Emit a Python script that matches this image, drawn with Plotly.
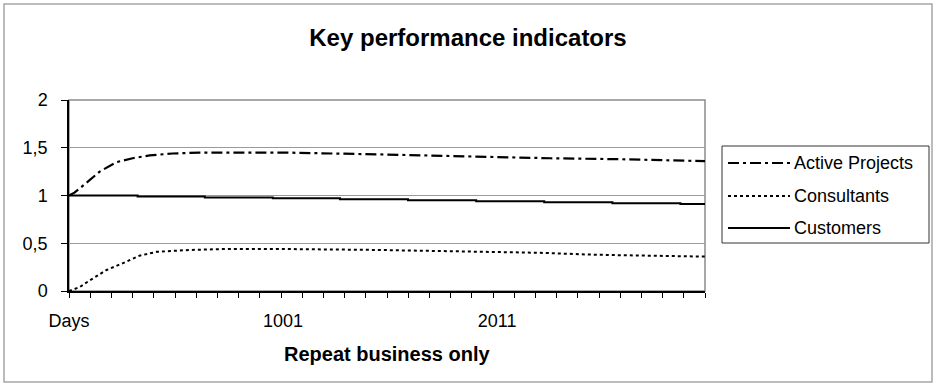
import plotly.graph_objects as go

# Simulation output (day -> indicator value)
active_days = [0, 26, 98, 146, 227, 303, 384, 494, 623, 1019, 1482, 2040, 2293, 2627, 3030]
active_vals = [1.00, 1.03, 1.16, 1.25, 1.35, 1.39, 1.42, 1.44, 1.45, 1.45, 1.43, 1.40, 1.39, 1.38, 1.36]

consult_days = [0, 50, 98, 179, 255, 336, 418, 575, 752, 1005, 1467, 1982, 2245, 2498, 2770, 3030]
consult_vals = [0.00, 0.04, 0.11, 0.22, 0.29, 0.37, 0.41, 0.43, 0.44, 0.44, 0.43, 0.41, 0.40, 0.38, 0.37, 0.36]

cust_days = [0, 327, 647, 971, 1291, 1615, 1940, 2264, 2589, 2913, 3030]
cust_vals = [1.00, 0.99, 0.98, 0.97, 0.96, 0.95, 0.94, 0.93, 0.92, 0.91, 0.91]

x_tick_pos = [0, 1020, 2040]
x_tick_text = ["Days", "1001", "2011"]

series_names = ["Active Projects", "Consultants", "Customers"]
dash_styles = ["11px,4px,3px,4px", "3px,3px", "solid"]

FONT = "Liberation Sans, Arial, sans-serif"

fig = go.Figure()
fig.add_trace(go.Scatter(x=active_days, y=active_vals, mode="lines", name=series_names[0],
                         line=dict(color="black", width=2.2, dash=dash_styles[0])))
fig.add_trace(go.Scatter(x=consult_days, y=consult_vals, mode="lines", name=series_names[1],
                         line=dict(color="black", width=2, dash=dash_styles[1])))
fig.add_trace(go.Scatter(x=cust_days, y=cust_vals, mode="lines", name=series_names[2],
                         line=dict(color="black", width=2, dash=dash_styles[2], shape="hv")))

L, R, T, B = 69, 231, 100, 94
W, H = 936, 385
pw, ph = W - L - R, H - T - B


def px_x(p):
    return (p - L) / pw


def px_y(p):
    return (H - B - p) / ph


shapes = [
    # chart frame
    dict(type="rect", xref="paper", yref="paper", x0=px_x(4), x1=px_x(932), y0=px_y(382), y1=px_y(4),
         line=dict(color="#a6a6a6", width=1.5), layer="below"),
    # plot area border
    dict(type="rect", xref="x domain", yref="y domain", x0=0, x1=1, y0=0, y1=1,
         line=dict(color="#8c8c8c", width=1.5), layer="below"),
    # legend box
    dict(type="rect", xref="paper", yref="paper", x0=px_x(722), x1=px_x(929), y0=px_y(243), y1=px_y(146),
         line=dict(color="#333333", width=1), fillcolor="white"),
]
annotations = []
legend_rows = [163, 196, 228]
for name, dash, row in zip(series_names, dash_styles, legend_rows):
    shapes.append(dict(type="line", xref="paper", yref="paper", x0=px_x(728), x1=px_x(790),
                       y0=px_y(row), y1=px_y(row), line=dict(color="black", width=2, dash=dash)))
    annotations.append(dict(xref="paper", yref="paper", x=px_x(792), y=px_y(row), text=name,
                            showarrow=False, xanchor="left", yanchor="middle",
                            font=dict(family=FONT, size=18, color="black")))

annotations.append(dict(xref="paper", yref="paper", x=0.5, y=px_y(354), text="<b>Repeat business only</b>",
                        showarrow=False, xanchor="center", yanchor="middle",
                        font=dict(family=FONT, size=20, color="black")))

fig.update_layout(
    width=W, height=H,
    margin=dict(l=L, r=R, t=T, b=B),
    paper_bgcolor="white", plot_bgcolor="white",
    separators=",.",
    showlegend=False,
    title=dict(text="<b>Key performance indicators</b>", x=0.5, xref="container", xanchor="center",
               y=1 - 38 / H, yref="container", yanchor="middle",
               font=dict(family=FONT, size=24, color="black")),
    font=dict(family=FONT, size=18, color="black"),
    shapes=shapes,
    annotations=annotations,
)

fig.update_xaxes(
    range=[0, 3030], showgrid=False, zeroline=False,
    showline=True, linecolor="black", linewidth=1.5,
    tickmode="array", tickvals=x_tick_pos, ticktext=x_tick_text, ticks="",
    ticklabelstandoff=13,
    tickfont=dict(family=FONT, size=18, color="black"),
    minor=dict(tick0=0, dtick=101, ticks="outside", ticklen=5, tickcolor="black", tickwidth=1, showgrid=False),
)
fig.update_yaxes(
    range=[0, 2], dtick=0.5, tick0=0,
    showgrid=True, gridcolor="#9a9a9a", gridwidth=1.2, zeroline=False,
    showline=True, linecolor="black", linewidth=1.5,
    ticks="outside", ticklen=6, tickcolor="black",
    ticklabelstandoff=10,
    tickfont=dict(family=FONT, size=18, color="black"),
)

fig.write_html("out.html")
